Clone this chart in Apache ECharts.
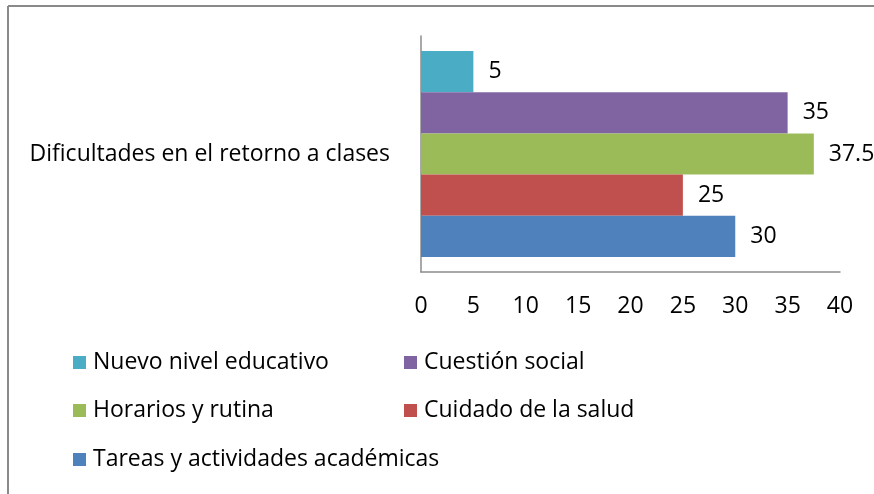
<!DOCTYPE html>
<html>
<head>
<meta charset="utf-8">
<script src="https://cdn.jsdelivr.net/npm/echarts@6/dist/echarts.min.js"></script>
<style>
  html, body { margin: 0; padding: 0; background: #fff; }
  #chart { width: 874px; height: 494px; }
</style>
</head>
<body>
<div id="chart"></div>
<script>
// data
let categories = ["Dificultades en el retorno a clases"];
let seriesNames = ["Nuevo nivel educativo", "Cuestión social", "Horarios y rutina", "Cuidado de la salud", "Tareas y actividades académicas"];
let seriesValues = [5, 35, 37.5, 25, 30];
let seriesColors = ["#4bacc6", "#8064a2", "#9bbb59", "#c0504d", "#4f81bd"];
let xTicks = [0, 40, 5];

let font = "Open Sans";
let fontSize = 23;
let myChart = echarts.init(document.getElementById("chart"));

// legend laid out as two columns, like the original
let legendPos = [
  { left: 73, top: 351 },
  { left: 404, top: 351 },
  { left: 73, top: 399 },
  { left: 404, top: 399 },
  { left: 73, top: 448 },
];
let legends = seriesNames.map(function (name, i) {
  return {
    data: [name],
    left: legendPos[i].left,
    top: legendPos[i].top,
    icon: "rect",
    itemWidth: 13,
    itemHeight: 13,
    itemGap: 0,
    padding: 0,
    textStyle: { fontFamily: font, fontSize: fontSize, color: "#000", padding: [0, 0, 0, 2] },
  };
});

let series = seriesNames.map(function (name, i) {
  return {
    name: name,
    type: "bar",
    data: [seriesValues[i]],
    itemStyle: { color: seriesColors[i] },
    barGap: "0%",
    barCategoryGap: "12.7%",
    label: {
      show: true,
      position: "right",
      distance: 15,
      fontFamily: font,
      fontSize: fontSize,
      color: "#000",
    },
  };
});

let option = {
  animation: false,
  backgroundColor: "#fff",
  graphic: [
    // outer frame (only left and top edges are visible)
    { type: "line", shape: { x1: 8, y1: 6, x2: 874, y2: 6 }, style: { stroke: "#8a8a8a", lineWidth: 2 } },
    { type: "line", shape: { x1: 8, y1: 6, x2: 8, y2: 494 }, style: { stroke: "#8a8a8a", lineWidth: 2 } },
  ],
  legend: legends,
  grid: { left: 421, right: 34, top: 36, height: 236, containLabel: false },
  xAxis: {
    type: "value",
    min: xTicks[0],
    max: xTicks[1],
    interval: xTicks[2],
    axisLine: { show: true, lineStyle: { color: "#8c8c8c", width: 1.5 } },
    axisTick: { show: false },
    splitLine: { show: false },
    axisLabel: { fontFamily: font, fontSize: fontSize, color: "#000", margin: 23 },
  },
  yAxis: {
    type: "category",
    data: categories,
    axisLine: { show: true, lineStyle: { color: "#8c8c8c", width: 1.5 } },
    axisTick: { show: false },
    axisLabel: { fontFamily: font, fontSize: fontSize, color: "#000", margin: 31 },
  },
  series: series,
};
myChart.setOption(option);
</script>
</body>
</html>
